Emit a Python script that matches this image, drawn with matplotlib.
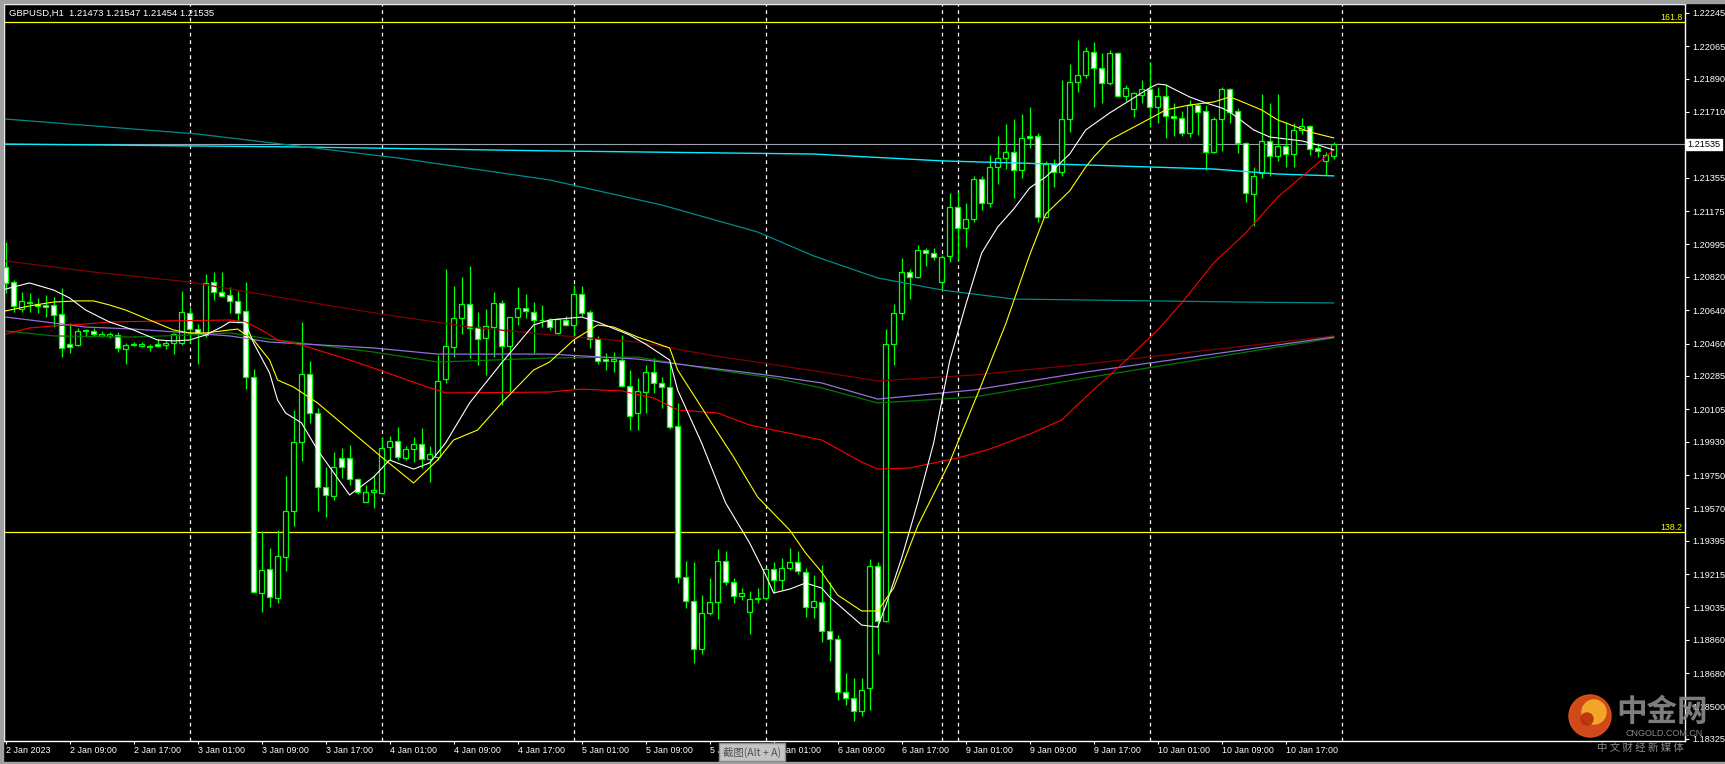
import numpy as np
import matplotlib
matplotlib.use("Agg")
import matplotlib.pyplot as plt
from matplotlib.patches import Circle, Rectangle

plt.rcParams['font.family'] = ['Liberation Sans', 'DejaVu Sans']

## GBPUSD H1 bars (2 Jan 01:00 .. 10 Jan 23:00)
opens = [
    1.20873, 1.20792, 1.20646, 1.20679, 1.20673, 1.20668, 1.20668, 1.20619, 1.20457, 1.20452,
    1.20528, 1.20528, 1.20501, 1.20501, 1.20506, 1.20430, 1.20452, 1.20447, 1.20441, 1.20457,
    1.20452, 1.20463, 1.20463, 1.20625, 1.20538, 1.20506, 1.20792, 1.20738, 1.20722, 1.20690,
    1.20636, 1.20279, 1.19113, 1.19242, 1.19086, 1.19307, 1.19556, 1.19928, 1.20295, 1.20085,
    1.19685, 1.19637, 1.19842, 1.19842, 1.19728, 1.19604, 1.19658, 1.19653, 1.19901, 1.19934,
    1.19842, 1.19890, 1.19917, 1.19836, 1.19847, 1.20268, 1.20441, 1.20598, 1.20673, 1.20549,
    1.20490, 1.20549, 1.20679, 1.20447, 1.20603, 1.20652, 1.20630, 1.20587, 1.20587, 1.20517,
    1.20587, 1.20560, 1.20727, 1.20630, 1.20484, 1.20376, 1.20366, 1.20371, 1.20231, 1.20085,
    1.20198, 1.20306, 1.20247, 1.20225, 1.20015, 1.19199, 1.19070, 1.18810, 1.19005, 1.19064,
    1.19286, 1.19172, 1.19097, 1.19010, 1.19080, 1.19086, 1.19242, 1.19183, 1.19248, 1.19280,
    1.19226, 1.19037, 1.19064, 1.18908, 1.18864, 1.18578, 1.18546, 1.18476, 1.18600, 1.19259,
    1.18962, 1.20457, 1.20625, 1.20846, 1.20819, 1.20965, 1.20949, 1.20792, 1.20933, 1.21197,
    1.21084, 1.21132, 1.21348, 1.21219, 1.21413, 1.21462, 1.21494, 1.21397, 1.21581, 1.21581,
    1.21143, 1.21429, 1.21386, 1.21672, 1.21872, 1.21910, 1.22034, 1.21948, 1.21867, 1.22029,
    1.21797, 1.21726, 1.21802, 1.21834, 1.21737, 1.21797, 1.21689, 1.21678, 1.21597, 1.21748,
    1.21716, 1.21494, 1.21672, 1.21834, 1.21716, 1.21543, 1.21267, 1.21381, 1.21554, 1.21473,
    1.21527, 1.21483, 1.21613, 1.21635, 1.21516, 1.21446, 1.21473]
highs = [
    1.21008, 1.20803, 1.20738, 1.20733, 1.20706, 1.20722, 1.20711, 1.20760, 1.20571, 1.20544,
    1.20538, 1.20544, 1.20528, 1.20522, 1.20522, 1.20463, 1.20468, 1.20468, 1.20457, 1.20484,
    1.20479, 1.20517, 1.20744, 1.20657, 1.20565, 1.20835, 1.20846, 1.20846, 1.20765, 1.20744,
    1.20792, 1.20322, 1.19448, 1.19356, 1.19453, 1.19745, 1.20101, 1.20576, 1.20366, 1.20112,
    1.19793, 1.19874, 1.19896, 1.19912, 1.19734, 1.19696, 1.19750, 1.19955, 1.19961, 1.20009,
    1.19907, 1.19955, 1.20004, 1.19907, 1.20398, 1.20862, 1.20771, 1.20819, 1.20879, 1.20630,
    1.20646, 1.20738, 1.20695, 1.20603, 1.20765, 1.20727, 1.20684, 1.20668, 1.20598, 1.20598,
    1.20609, 1.20776, 1.20771, 1.20641, 1.20501, 1.20409, 1.20414, 1.20506, 1.20317, 1.20274,
    1.20344, 1.20382, 1.20279, 1.20355, 1.20139, 1.19286, 1.19280, 1.19102, 1.19194, 1.19350,
    1.19340, 1.19194, 1.19140, 1.19124, 1.19140, 1.19248, 1.19280, 1.19302, 1.19356, 1.19340,
    1.19248, 1.19210, 1.19264, 1.19172, 1.18886, 1.18681, 1.18654, 1.18654, 1.19296, 1.19280,
    1.20538, 1.20673, 1.20922, 1.20862, 1.20992, 1.20976, 1.20976, 1.20938, 1.21273, 1.21278,
    1.21219, 1.21365, 1.21365, 1.21478, 1.21581, 1.21645, 1.21672, 1.21699, 1.21737, 1.21597,
    1.21446, 1.21456, 1.21883, 1.21969, 1.22099, 1.22061, 1.22088, 1.22029, 1.22045, 1.22034,
    1.21856, 1.21818, 1.21883, 1.21980, 1.21845, 1.21861, 1.21759, 1.21716, 1.21775, 1.21759,
    1.21748, 1.21683, 1.21845, 1.21840, 1.21732, 1.21548, 1.21413, 1.21807, 1.21759, 1.21807,
    1.21656, 1.21651, 1.21678, 1.21640, 1.21543, 1.21494, 1.21547]
lows = [
    1.20733, 1.20630, 1.20630, 1.20630, 1.20625, 1.20603, 1.20549, 1.20387, 1.20409, 1.20447,
    1.20495, 1.20495, 1.20495, 1.20490, 1.20414, 1.20349, 1.20447, 1.20441, 1.20420, 1.20441,
    1.20430, 1.20403, 1.20452, 1.20463, 1.20349, 1.20495, 1.20695, 1.20711, 1.20625, 1.20582,
    1.20214, 1.19113, 1.19010, 1.19037, 1.19059, 1.19232, 1.19475, 1.19826, 1.20031, 1.19556,
    1.19523, 1.19615, 1.19734, 1.19696, 1.19647, 1.19604, 1.19572, 1.19647, 1.19831, 1.19831,
    1.19831, 1.19820, 1.19788, 1.19712, 1.19831, 1.20247, 1.20387, 1.20511, 1.20382, 1.20344,
    1.20290, 1.20387, 1.20128, 1.20193, 1.20560, 1.20598, 1.20409, 1.20549, 1.20533, 1.20511,
    1.20555, 1.20495, 1.20609, 1.20436, 1.20349, 1.20317, 1.20306, 1.20225, 1.19993, 1.19993,
    1.20085, 1.20193, 1.20112, 1.19998, 1.19167, 1.19032, 1.18735, 1.18783, 1.18994, 1.18972,
    1.19156, 1.19059, 1.19075, 1.18891, 1.19059, 1.19075, 1.19113, 1.19129, 1.19237, 1.19215,
    1.18983, 1.18978, 1.18848, 1.18746, 1.18535, 1.18508, 1.18422, 1.18449, 1.18481, 1.18783,
    1.18956, 1.20344, 1.20587, 1.20700, 1.20814, 1.20879, 1.20911, 1.20754, 1.20900, 1.20911,
    1.20981, 1.21116, 1.21181, 1.21197, 1.21321, 1.21402, 1.21246, 1.21354, 1.21516, 1.21116,
    1.21138, 1.21305, 1.21365, 1.21602, 1.21818, 1.21894, 1.21737, 1.21759, 1.21856, 1.21791,
    1.21770, 1.21683, 1.21759, 1.21629, 1.21651, 1.21570, 1.21581, 1.21581, 1.21575, 1.21586,
    1.21397, 1.21489, 1.21500, 1.21651, 1.21489, 1.21224, 1.21095, 1.21354, 1.21365, 1.21446,
    1.21413, 1.21413, 1.21591, 1.21478, 1.21467, 1.21370, 1.21454]
closes = [
    1.20787, 1.20663, 1.20690, 1.20684, 1.20663, 1.20657, 1.20614, 1.20436, 1.20441, 1.20528,
    1.20533, 1.20511, 1.20511, 1.20511, 1.20436, 1.20452, 1.20457, 1.20457, 1.20447, 1.20447,
    1.20463, 1.20511, 1.20630, 1.20538, 1.20511, 1.20787, 1.20738, 1.20717, 1.20690, 1.20625,
    1.20279, 1.19118, 1.19237, 1.19091, 1.19313, 1.19556, 1.19928, 1.20295, 1.20085, 1.19685,
    1.19642, 1.19793, 1.19793, 1.19728, 1.19658, 1.19658, 1.19669, 1.19896, 1.19934, 1.19847,
    1.19890, 1.19917, 1.19836, 1.19863, 1.20258, 1.20447, 1.20598, 1.20673, 1.20544, 1.20484,
    1.20555, 1.20679, 1.20447, 1.20603, 1.20652, 1.20636, 1.20587, 1.20585, 1.20549, 1.20592,
    1.20560, 1.20727, 1.20625, 1.20484, 1.20366, 1.20366, 1.20376, 1.20231, 1.20069, 1.20204,
    1.20306, 1.20247, 1.20225, 1.20009, 1.19199, 1.19070, 1.18810, 1.19005, 1.19064, 1.19286,
    1.19172, 1.19097, 1.19113, 1.19080, 1.19086, 1.19242, 1.19183, 1.19248, 1.19280, 1.19232,
    1.19037, 1.19070, 1.18908, 1.18864, 1.18578, 1.18546, 1.18476, 1.18589, 1.19259, 1.18962,
    1.20457, 1.20625, 1.20846, 1.20819, 1.20965, 1.20949, 1.20927, 1.20927, 1.21197, 1.21084,
    1.21132, 1.21348, 1.21219, 1.21413, 1.21462, 1.21494, 1.21397, 1.21570, 1.21570, 1.21143,
    1.21429, 1.21386, 1.21672, 1.21872, 1.21910, 1.22040, 1.21948, 1.21867, 1.22029, 1.21797,
    1.21840, 1.21813, 1.21834, 1.21737, 1.21797, 1.21689, 1.21678, 1.21597, 1.21748, 1.21710,
    1.21494, 1.21672, 1.21834, 1.21710, 1.21543, 1.21273, 1.21365, 1.21554, 1.21473, 1.21527,
    1.21483, 1.21613, 1.21635, 1.21510, 1.21500, 1.21478, 1.21535]

## moving averages (bar index, price)
white_idx = [0, 3, 6, 8, 10, 13, 16, 19, 21, 23, 25, 27, 28, 30, 31, 33, 34, 35, 37, 39,
             43, 46, 48, 51, 53, 55, 58, 62, 66, 68, 72, 74, 78, 80, 83, 84, 87, 90, 93, 95,
             96, 98, 100, 102, 103, 107, 109, 110, 112, 114, 116, 118, 120, 122, 124, 126, 128, 130, 133, 135,
             138, 143, 144, 145, 148, 150, 152, 153, 156, 158, 162, 164, 166]
white_val = [1.20754, 1.20787, 1.20749, 1.20706, 1.20641, 1.20576, 1.20533, 1.20479, 1.20474, 1.20479,
             1.20506, 1.20549, 1.20576, 1.20571, 1.20463, 1.20301, 1.20155, 1.20085, 1.20031, 1.19885,
             1.19642, 1.19739, 1.19831, 1.19782, 1.19815, 1.19923, 1.20139, 1.20355, 1.20560, 1.20587,
             1.20603, 1.20576, 1.20506, 1.20457, 1.20371, 1.20209, 1.19923, 1.19599, 1.19383, 1.19210,
             1.19113, 1.19134, 1.19167, 1.19140, 1.19091, 1.18940, 1.18929, 1.19043, 1.19302, 1.19599,
             1.19923, 1.20366, 1.20668, 1.20949, 1.21089, 1.21186, 1.21300, 1.21359, 1.21483, 1.21613,
             1.21705, 1.21840, 1.21861, 1.21856, 1.21791, 1.21759, 1.21732, 1.21710, 1.21613, 1.21575,
             1.21554, 1.21532, 1.21505]
yellow_idx = [0, 3, 6, 9, 11, 13, 15, 18, 21, 23, 25, 28, 29, 31, 33, 34, 36, 39, 43, 47,
              51, 54, 56, 59, 62, 66, 68, 71, 74, 76, 79, 83, 84, 88, 91, 94, 98, 100, 102, 104,
              107, 109, 111, 114, 118, 122, 125, 128, 130, 133, 135, 136, 138, 142, 145, 148, 151, 153, 154, 157,
              159, 163, 166]
yellow_val = [1.20636, 1.20663, 1.20684, 1.20690, 1.20690, 1.20668, 1.20641, 1.20587, 1.20533, 1.20517,
              1.20517, 1.20533, 1.20538, 1.20479, 1.20371, 1.20263, 1.20225, 1.20139, 1.19993, 1.19847,
              1.19707, 1.19831, 1.19939, 1.19993, 1.20139, 1.20317, 1.20360, 1.20479, 1.20560, 1.20549,
              1.20495, 1.20436, 1.20317, 1.20047, 1.19847, 1.19631, 1.19453, 1.19329, 1.19226, 1.19102,
              1.19016, 1.19016, 1.19140, 1.19475, 1.19820, 1.20241, 1.20565, 1.20938, 1.21159, 1.21284,
              1.21413, 1.21467, 1.21559, 1.21651, 1.21721, 1.21748, 1.21764, 1.21791, 1.21775, 1.21721,
              1.21667, 1.21602, 1.21570]
red_idx = [0, 3, 6, 10, 13, 20, 28, 30, 32, 34, 37, 43, 47, 52, 55, 68, 72, 77, 81, 84,
           89, 93, 102, 107, 109, 113, 119, 123, 128, 132, 135, 139, 144, 147, 151, 155, 159, 163, 166]
red_val = [1.20511, 1.20544, 1.20555, 1.20565, 1.20576, 1.20582, 1.20587, 1.20576, 1.20533, 1.20479,
           1.20452, 1.20371, 1.20312, 1.20236, 1.20193, 1.20198, 1.20214, 1.20204, 1.20166, 1.20101,
           1.20085, 1.20020, 1.19939, 1.19820, 1.19782, 1.19788, 1.19842, 1.19890, 1.19971, 1.20047,
           1.20171, 1.20328, 1.20533, 1.20679, 1.20895, 1.21057, 1.21251, 1.21397, 1.21505]
maroon_idx = [0, 11, 23, 34, 47, 58, 67, 79, 88, 102, 109, 121, 135, 166]
maroon_val = [1.20906, 1.20846, 1.20792, 1.20711, 1.20619, 1.20549, 1.20511, 1.20468, 1.20398,
              1.20306, 1.20258, 1.20290, 1.20349, 1.20501]
purple_idx = [0, 6, 10, 16, 23, 28, 33, 46, 54, 68, 79, 88, 96, 102, 109, 121, 135, 166]
purple_val = [1.20603, 1.20571, 1.20549, 1.20538, 1.20517, 1.20501, 1.20468, 1.20436, 1.20403,
              1.20403, 1.20376, 1.20328, 1.20285, 1.20247, 1.20160, 1.20209, 1.20306, 1.20495]
green_idx = [0, 6, 16, 23, 28, 33, 46, 54, 68, 79, 88, 96, 102, 109, 121, 135, 166]
green_val = [1.20528, 1.20501, 1.20495, 1.20506, 1.20517, 1.20484, 1.20414, 1.20360, 1.20382,
             1.20387, 1.20322, 1.20274, 1.20220, 1.20139, 1.20171, 1.20274, 1.20490]
teal_idx = [0, 24, 49, 68, 82, 94, 101, 109, 117, 126, 135, 154, 166]
teal_val = [1.21672, 1.21591, 1.21462, 1.21343, 1.21208, 1.21062, 1.20933, 1.20814, 1.20749,
            1.20700, 1.20695, 1.20684, 1.20679]
cyan_idx = [0, 37, 68, 101, 117, 135, 151, 159, 166]
cyan_val = [1.21537, 1.21521, 1.21500, 1.21483, 1.21446, 1.21424, 1.21402, 1.21375, 1.21365]

fib_levels = [1.22196, 1.19442]
fib_names = ['161.8', '138.2']
separators = [23, 47, 71, 95, 117, 119, 143, 167]

price_ticks = ['1.22245', '1.22065', '1.21890', '1.21710', '1.21355', '1.21175', '1.20995',
               '1.20820', '1.20640', '1.20460', '1.20285', '1.20105', '1.19930', '1.19750',
               '1.19570', '1.19395', '1.19215', '1.19035', '1.18860', '1.18680', '1.18500', '1.18325']
time_ticks = [0, 8, 16, 24, 32, 40, 48, 56, 64, 72, 80, 88, 96, 104, 112, 120, 128, 136, 144, 152, 160]
time_labels = ['2 Jan 2023', '2 Jan 09:00', '2 Jan 17:00', '3 Jan 01:00', '3 Jan 09:00', '3 Jan 17:00',
               '4 Jan 01:00', '4 Jan 09:00', '4 Jan 17:00', '5 Jan 01:00', '5 Jan 09:00', '5 Jan 17:00',
               '6 Jan 01:00', '6 Jan 09:00', '6 Jan 17:00', '9 Jan 01:00', '9 Jan 09:00', '9 Jan 17:00',
               '10 Jan 01:00', '10 Jan 09:00', '10 Jan 17:00']

W, H = 1725, 764
fig = plt.figure(figsize=(W / 100, H / 100), dpi=100, facecolor='black')
ax = fig.add_axes([4 / W, (H - 741) / H, (1685 - 4) / W, (741 - 4) / H])
ax.set_facecolor('black')
ax.set_xlim(-0.19, 209.9)
ax.set_ylim(1.18314, 1.22293)

o = np.array(opens); h = np.array(highs); l = np.array(lows); c = np.array(closes)
x = np.arange(len(o))
bull = c >= o

## period separators, fibo levels, bid line
for s in separators:
    ax.axvline(s, color='white', lw=0.9, ls=(0, (3, 3)), zorder=1)
for lev, name in zip(fib_levels, fib_names):
    ax.axhline(lev, color='#ffff00', lw=0.9, zorder=1)
    ax.text(0.9985, lev, name, transform=ax.get_yaxis_transform(), color='#ffff00',
            fontsize=6.3, ha='right', va='bottom')
ax.axhline(closes[-1], color='#9aa3ad', lw=0.8, zorder=1)

## candles
ax.vlines(x, l, h, color='#00ff00', lw=0.9, zorder=3)
body = np.maximum(np.abs(c - o), 0.00002)
ax.bar(x, body, bottom=np.minimum(o, c), width=0.62,
       color=np.where(bull, 'black', 'white'), edgecolor='#00ff00', linewidth=0.9, zorder=4)

## moving averages
ax.plot(cyan_idx, cyan_val, color='#00f0ff', lw=1.0, zorder=5)
ax.plot(teal_idx, teal_val, color='#008b8b', lw=0.9, zorder=5)
ax.plot(maroon_idx, maroon_val, color='#800000', lw=0.9, zorder=5)
ax.plot(green_idx, green_val, color='#007800', lw=0.9, zorder=5)
ax.plot(purple_idx, purple_val, color='#9370db', lw=0.9, zorder=5)
ax.plot(red_idx, red_val, color='#ff0000', lw=0.8, zorder=5)
ax.plot(yellow_idx, yellow_val, color='#ffff00', lw=0.8, zorder=5)
ax.plot(white_idx, white_val, color='white', lw=0.8, zorder=5)

## axes
for sp in ax.spines.values():
    sp.set_color('white')
    sp.set_linewidth(1)
ax.yaxis.tick_right()
ax.set_yticks([float(t) for t in price_ticks])
ax.set_yticklabels(price_ticks)
ax.set_xticks(time_ticks)
ax.set_xticklabels(time_labels, ha='left')
ax.tick_params(axis='y', colors='white', labelsize=6.6, length=3, width=0.8, pad=2)
ax.tick_params(axis='x', colors='white', labelsize=6.4, length=2.5, width=0.8, pad=0.8)

ax.text(1.0015, closes[-1], '%.5f' % closes[-1], transform=ax.get_yaxis_transform(),
        color='black', fontsize=6.6, ha='left', va='center', zorder=10, clip_on=False,
        bbox=dict(boxstyle='square,pad=0.15', fc='white', ec='white'))
ax.text(0.003, 0.988, 'GBPUSD,H1  %.5f %.5f %.5f %.5f' % (opens[-1], highs[-1], lows[-1], closes[-1]),
        transform=ax.transAxes, color='white', fontsize=6.8, ha='left', va='center')

## window frame, screenshot tooltip and watermark (pixel overlay)
ov = fig.add_axes([0, 0, 1, 1], facecolor='none')
ov.set_xlim(0, W)
ov.set_ylim(H, 0)
ov.axis('off')
ov.add_patch(Rectangle((0, 0), 3, H, color='#a0a0a0'))
ov.add_patch(Rectangle((0, 0), W, 3, color='#a0a0a0'))
ov.add_patch(Rectangle((0, H - 2), W, 2, color='#a0a0a0'))
ov.text(752, 752, '截图(Alt + A)', family=['Noto Sans CJK SC', 'DejaVu Sans'], fontsize=7.5,
        color='#505050', ha='center', va='center',
        bbox=dict(boxstyle='square,pad=0.35', fc='#c4c4c4', ec='#8a8a8a'))
ov.add_patch(Circle((1590, 716), 21, color='#e8521c', alpha=0.9))
ov.add_patch(Circle((1594, 712), 12, color='#f7b02a', alpha=0.9))
ov.add_patch(Circle((1587, 719), 6, color='#b8300e', alpha=0.9))
ov.text(1662, 712, '中金网', family=['Noto Sans CJK SC'], fontsize=22, fontweight='bold',
        color='#8c8c8c', alpha=0.9, ha='center', va='center')
ov.text(1664, 734, 'CNGOLD.COM.CN', fontsize=6.5, color='#8c8c8c', ha='center', va='center')
ov.text(1640, 748, '中 文 财 经 新 媒 体', family=['Noto Sans CJK SC'], fontsize=7.5,
        color='#8c8c8c', ha='center', va='center')

fig.savefig('out.png', dpi=100, facecolor='black')
